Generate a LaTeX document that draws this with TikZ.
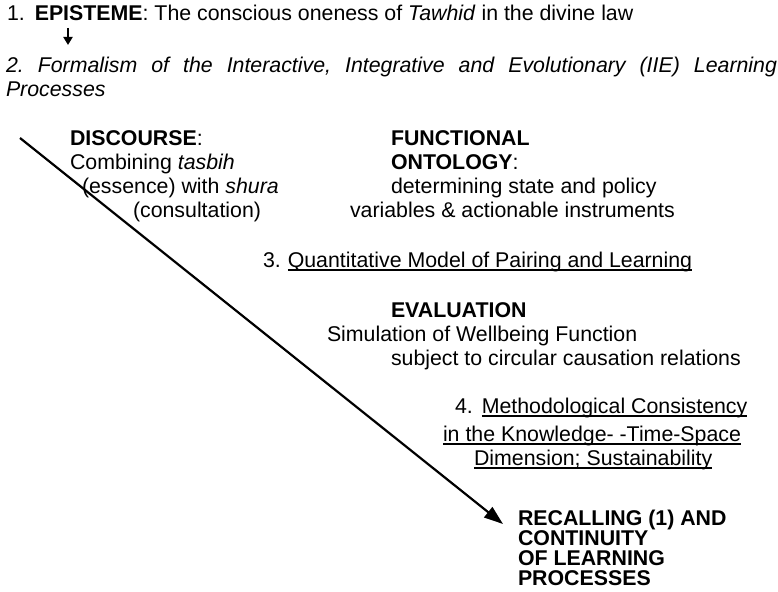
\documentclass[tikz,border=0pt]{standalone}
\usepackage{fontspec}
\setmainfont{Liberation Sans}
\usetikzlibrary{arrows.meta}
\frenchspacing

% text underlined by a rule set a little below the baseline
\newcommand\ulinetext[1]{\setbox0=\hbox{#1}\rlap{\vrule height -2.3pt depth 4.1pt width \wd0}\box0}

\begin{document}
\begin{tikzpicture}[x=1pt,y=1pt,
  txt/.style={anchor=base west, inner sep=0pt, outer sep=0pt,
    font=\fontsize{21.33}{24}\selectfont},
  bigarrow/.style={line width=2.2pt, -{Triangle[length=19pt,width=13pt]}},
  smallarrow/.style={line width=1.8pt, -{Triangle[length=8pt,width=9pt]}}]
\useasboundingbox (0,0) rectangle (778,-591);

% header: episteme and formalism
\node[txt] (epi) at (7,-21) {1.\hspace{10pt}\textbf{EPISTEME}: The conscious oneness of \textit{Tawhid} in the divine law};
\coordinate (epiA) at (68,-28);
\coordinate (epiB) at (68,-45);
\draw[smallarrow] (epiA) -- (epiB);
\node[txt] (form1) at (6,-73) {\makebox[771pt][s]{\itshape 2. Formalism of the Interactive, Integrative and Evolutionary (IIE) Learning}};
\node[txt] (form2) at (6,-96) {\itshape Processes};

% discourse
\node[txt] (disc1) at (70,-145) {\textbf{DISCOURSE}:};
\node[txt] (disc2) at (70,-169) {Combining \textit{tasbih}};
\node[txt] (disc3) at (82,-193) {(essence) with \textit{shura}};
\node[txt] (disc4) at (133,-217) {(consultation)};

% functional ontology
\node[txt] (onto1) at (391,-145) {\textbf{FUNCTIONAL}};
\node[txt] (onto2) at (391,-169) {\textbf{ONTOLOGY}:};
\node[txt] (onto3) at (391,-193) {determining state and policy};
\node[txt] (onto4) at (350,-217) {variables \& actionable instruments};

% quantitative model
\node[txt] (quant) at (263,-267) {3.\hspace{7pt}\ulinetext{Quantitative Model of Pairing and Learning}};

% evaluation
\node[txt] (eval1) at (391,-317) {\textbf{EVALUATION}};
\node[txt] (eval2) at (327,-341) {Simulation of Wellbeing Function};
\node[txt] (eval3) at (391,-365) {subject to circular causation relations};

% methodological consistency
\node[txt] (meth1) at (455,-413) {4.\hspace{9pt}\ulinetext{Methodological Consistency}};
\node[txt] (meth2) at (443,-441) {\ulinetext{in the Knowledge- -Time-Space}};
\node[txt] (meth3) at (474,-465) {\ulinetext{Dimension; Sustainability}};

% recalling
\node[txt] (rec1) at (518,-525) {\textbf{RECALLING (1) AND}};
\node[txt] (rec2) at (518,-545) {\textbf{CONTINUITY}};
\node[txt] (rec3) at (518,-565) {\textbf{OF LEARNING}};
\node[txt] (rec4) at (518,-585) {\textbf{PROCESSES}};

% the long diagonal arrow
\coordinate (diagStart) at (20,-138);
\coordinate (diagEnd) at (503,-524);
\draw[bigarrow] (diagStart) -- (diagEnd);
\end{tikzpicture}
\end{document}
